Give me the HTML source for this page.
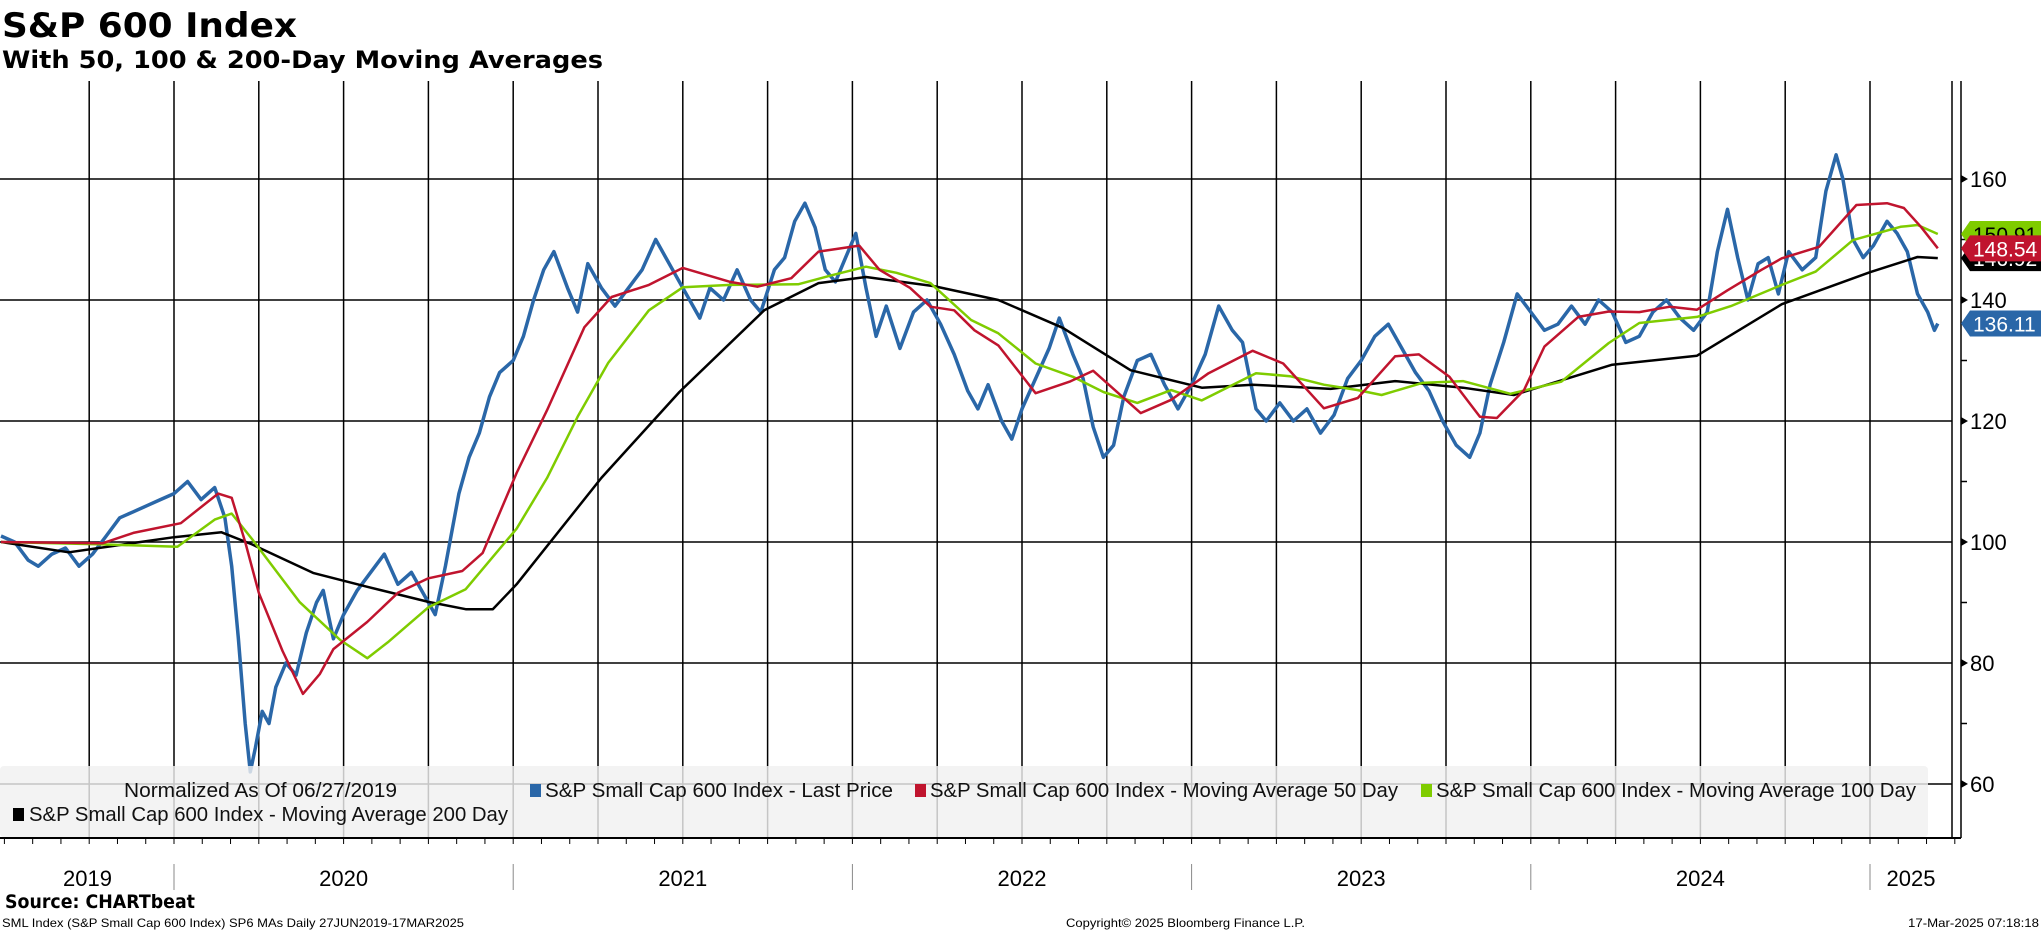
<!DOCTYPE html>
<html><head><meta charset="utf-8"><title>S&P 600 Index</title>
<style>
html,body{margin:0;padding:0;background:#fff;}
svg{display:block;}
text{font-family:"Liberation Sans",sans-serif;}
.lg{font-size:20px;fill:#111;}
</style></head>
<body>
<svg id="chart" width="2041" height="932" viewBox="0 0 2041 932" xmlns="http://www.w3.org/2000/svg">
  <text x="2" y="37" style="font-family:'DejaVu Sans','Liberation Sans',sans-serif;font-size:34px;font-weight:bold" textLength="295" lengthAdjust="spacingAndGlyphs">S&amp;P 600 Index</text>
  <text x="2" y="68" style="font-family:'DejaVu Sans','Liberation Sans',sans-serif;font-size:24px;font-weight:bold" textLength="601" lengthAdjust="spacingAndGlyphs">With 50, 100 &amp; 200-Day Moving Averages</text>
  <g id="grid"></g>
  <g id="series"></g>
  <g id="legend">
    <rect x="0" y="766" width="1928" height="71" rx="4" fill="#f0f0f0" fill-opacity="0.82"/>
    <text class="lg" x="124" y="797" textLength="273" lengthAdjust="spacingAndGlyphs">Normalized As Of 06/27/2019</text>
    <rect x="530" y="784" width="11" height="13" fill="#2a67a8"/>
    <text class="lg" x="545" y="797" textLength="348" lengthAdjust="spacingAndGlyphs">S&amp;P Small Cap 600 Index - Last Price</text>
    <rect x="915" y="784" width="11" height="13" fill="#c0142e"/>
    <text class="lg" x="930" y="797" textLength="468" lengthAdjust="spacingAndGlyphs">S&amp;P Small Cap 600 Index - Moving Average 50 Day</text>
    <rect x="1421" y="784" width="11" height="13" fill="#7fcc00"/>
    <text class="lg" x="1436" y="797" textLength="480" lengthAdjust="spacingAndGlyphs">S&amp;P Small Cap 600 Index - Moving Average 100 Day</text>
    <rect x="13" y="808" width="11" height="13" fill="#000"/>
    <text class="lg" x="29" y="821" textLength="479" lengthAdjust="spacingAndGlyphs">S&amp;P Small Cap 600 Index - Moving Average 200 Day</text>
  </g>
  <g id="axes"></g>
  <g id="tags"></g>
  <text x="5" y="908" style="font-family:'DejaVu Sans','Liberation Sans',sans-serif;font-size:19px;font-weight:bold" textLength="190" lengthAdjust="spacingAndGlyphs">Source: CHARTbeat</text>
  <text x="2" y="927" font-size="12" textLength="462" lengthAdjust="spacingAndGlyphs">SML Index (S&amp;P Small Cap 600 Index) SP6 MAs  Daily 27JUN2019-17MAR2025</text>
  <text x="1066" y="927" font-size="12" textLength="239" lengthAdjust="spacingAndGlyphs">Copyright© 2025 Bloomberg Finance L.P.</text>
  <text x="1908" y="927" font-size="12" textLength="131" lengthAdjust="spacingAndGlyphs">17-Mar-2025 07:18:18</text>
</svg>
<script>
const priceDates=[2019.49,2019.53,2019.57,2019.6,2019.64,2019.68,2019.72,2019.76,2019.8,2019.84,2019.88,2019.92,2019.96,2020.0,2020.04,2020.08,2020.12,2020.15,2020.17,2020.19,2020.21,2020.225,2020.24,2020.26,2020.28,2020.3,2020.33,2020.36,2020.39,2020.42,2020.44,2020.47,2020.5,2020.54,2020.58,2020.62,2020.66,2020.7,2020.74,2020.77,2020.8,2020.84,2020.87,2020.9,2020.93,2020.96,2021.0,2021.03,2021.06,2021.09,2021.12,2021.16,2021.19,2021.22,2021.26,2021.3,2021.34,2021.38,2021.42,2021.45,2021.48,2021.52,2021.55,2021.58,2021.62,2021.66,2021.7,2021.73,2021.77,2021.8,2021.83,2021.86,2021.89,2021.92,2021.95,2021.98,2022.01,2022.04,2022.07,2022.1,2022.14,2022.18,2022.22,2022.26,2022.3,2022.34,2022.37,2022.4,2022.44,2022.47,2022.5,2022.54,2022.58,2022.61,2022.65,2022.68,2022.71,2022.74,2022.77,2022.8,2022.84,2022.88,2022.92,2022.96,2023.0,2023.04,2023.08,2023.12,2023.15,2023.19,2023.22,2023.26,2023.3,2023.34,2023.38,2023.42,2023.46,2023.5,2023.54,2023.58,2023.62,2023.66,2023.7,2023.74,2023.78,2023.82,2023.85,2023.88,2023.92,2023.96,2024.0,2024.04,2024.08,2024.12,2024.16,2024.2,2024.24,2024.28,2024.32,2024.36,2024.4,2024.44,2024.48,2024.52,2024.55,2024.58,2024.61,2024.64,2024.67,2024.7,2024.73,2024.76,2024.8,2024.84,2024.87,2024.9,2024.92,2024.95,2024.98,2025.01,2025.05,2025.08,2025.11,2025.14,2025.17,2025.19,2025.2];
const priceValues=[101,100,97,96,98,99,96,98,101,104,105,106,107,108,110,107,109,104,96,84,70,62,66,72,70,76,80,78,85,90,92,84,88,92,95,98,93,95,91,88,96,108,114,118,124,128,130,134,140,145,148,142,138,146,142,139,142,145,150,147,144,140,137,142,140,145,140,138,145,147,153,156,152,145,143,147,151,142,134,139,132,138,140,136,131,125,122,126,120,117,122,127,132,137,131,127,119,114,116,124,130,131,126,122,126,131,139,135,133,122,120,123,120,122,118,121,127,130,134,136,132,128,125,120,116,114,118,126,133,141,138,135,136,139,136,140,138,133,134,138,140,137,135,138,148,155,147,140,146,147,141,148,145,147,158,164,160,150,147,149,153,151,148,141,138,135,136.1];
const ma50Dates=[2019.49,2019.79,2019.88,2020.02,2020.13,2020.17,2020.21,2020.25,2020.32,2020.38,2020.43,2020.47,2020.57,2020.66,2020.75,2020.85,2020.91,2021.01,2021.1,2021.21,2021.29,2021.4,2021.5,2021.64,2021.72,2021.82,2021.9,2022.02,2022.08,2022.17,2022.23,2022.3,2022.36,2022.43,2022.54,2022.64,2022.71,2022.85,2022.94,2023.05,2023.18,2023.27,2023.39,2023.49,2023.6,2023.67,2023.76,2023.85,2023.9,2023.98,2024.04,2024.14,2024.23,2024.32,2024.41,2024.49,2024.58,2024.68,2024.74,2024.85,2024.96,2025.05,2025.1,2025.15,2025.2];
const ma50Values=[100,99.8,101.5,103.1,108,107.3,100,91.6,82,74.9,78.2,82.3,86.8,91.6,94,95.2,98.2,111.4,121.8,135.5,140.5,142.5,145.3,143,142.2,143.6,148,149,145,142,138.9,138.3,135,132.5,124.6,126.5,128.3,121.3,123.5,127.9,131.6,129.5,122.1,123.8,130.7,131,127.3,120.7,120.5,125.1,132.3,137.2,138.1,138,138.9,138.4,141.6,145,146.9,148.8,155.7,156,155.2,152.1,148.54];
const ma100Dates=[2019.49,2019.79,2020.01,2020.12,2020.17,2020.23,2020.37,2020.49,2020.57,2020.63,2020.75,2020.86,2021.01,2021.1,2021.19,2021.28,2021.4,2021.5,2021.64,2021.84,2021.94,2022.04,2022.13,2022.23,2022.35,2022.43,2022.54,2022.65,2022.74,2022.84,2022.94,2023.03,2023.19,2023.29,2023.39,2023.49,2023.56,2023.68,2023.8,2023.94,2024.09,2024.23,2024.32,2024.49,2024.59,2024.74,2024.84,2024.95,2025.09,2025.14,2025.2];
const ma100Values=[100,99.6,99.2,103.7,104.7,100.5,90.1,83.8,80.8,83.4,89.2,92.2,102.2,110.6,120.7,129.6,138.3,142.1,142.5,142.6,144.1,145.5,144.5,142.8,136.7,134.5,129.5,127.3,124.8,123,125.1,123.4,127.9,127.4,126,125.1,124.3,126.3,126.6,124.5,126.5,132.9,136.2,137.2,139,142.5,144.7,149.9,152.1,152.4,150.91];
const ma200Dates=[2019.49,2019.69,2020.0,2020.14,2020.23,2020.41,2020.57,2020.75,2020.86,2020.94,2021.01,2021.26,2021.49,2021.74,2021.9,2022.04,2022.24,2022.43,2022.62,2022.82,2023.03,2023.18,2023.41,2023.6,2023.8,2023.95,2024.24,2024.49,2024.74,2025.0,2025.14,2025.2];
const ma200Values=[100,98.3,100.8,101.6,99.6,94.9,92.6,90.1,88.9,88.9,93,110.6,124.8,138.3,142.8,143.8,142.3,140,135.4,128.4,125.5,126,125.3,126.6,125.5,124.3,129.3,130.8,139.3,144.6,147.1,146.92];
const yTicks=[60,80,100,120,140,160];
const yMinor=[70,90,110,130,150];
const yearLabels=["2019","2020","2021","2022","2023","2024","2025"];
const tagValues=[150.91,146.92,148.54,136.11];

const NS="http://www.w3.org/2000/svg";
const PLOT={l:0,r:1952,t:81,b:838};
function xs(t){return 174+(t-2020)*339.2;}
function ys(v){return 179+(160-v)*6.05;}
function mk(tag,attrs,parent){const e=document.createElementNS(NS,tag);for(const k in attrs)e.setAttribute(k,attrs[k]);parent.appendChild(e);return e;}
const grid=document.getElementById('grid'),series=document.getElementById('series'),axes=document.getElementById('axes'),tags=document.getElementById('tags');

yTicks.forEach(v=>{
  const l=mk('line',{x1:PLOT.l,x2:PLOT.r,y1:ys(v),y2:ys(v),stroke:'#000','stroke-width':1.5},grid);
  
  
});
for(let q=2019.75;q<=2025.01;q+=0.25){
  const x=xs(q);
  const l=mk('line',{x1:x,x2:x,y1:PLOT.t,y2:PLOT.b,stroke:'#000','stroke-width':1.5},grid);
  
  
}
function path(dates,vals,color,w,name){
  let d='';
  for(let i=0;i<dates.length;i++){d+=(i?'L':'M')+xs(dates[i]).toFixed(1)+','+ys(vals[i]).toFixed(1);}
  const p=mk('path',{d:d,fill:'none',stroke:color,'stroke-width':w,'stroke-linejoin':'round'},series);
  
  
}
path(priceDates,priceValues,'#2a67a8',3.5,'price-line');
path(ma200Dates,ma200Values,'#000000',2.5,'ma200-line');
path(ma100Dates,ma100Values,'#7fcc00',2.5,'ma100-line');
path(ma50Dates,ma50Values,'#c0142e',2.5,'ma50-line');

[1952,1961].forEach(x=>{
  const l=mk('line',{x1:x,x2:x,y1:PLOT.t,y2:PLOT.b,stroke:'#000','stroke-width':1.5},axes);
  
  
});
yTicks.forEach(v=>{
  const y=ys(v);
  const a=mk('path',{d:`M1961,${y-4}L1968,${y}L1961,${y+4}Z`,fill:'#000'},axes);
  
  
  const t=mk('text',{x:1970,y:y+8,'font-size':22},axes);
  t.textContent=v;
  
  
});
yMinor.forEach(v=>{
  const l=mk('line',{x1:1961,x2:1967,y1:ys(v),y2:ys(v),stroke:'#000','stroke-width':1.5},axes);
  
  
});
const ax=mk('line',{x1:0,x2:1961,y1:838,y2:838,stroke:'#000','stroke-width':2},axes);


for(let m=0;m<70;m++){
  const t=2019.5+m/12;const x=xs(t);if(x>1955)break;
  const l=mk('line',{x1:x,x2:x,y1:838,y2:844,stroke:'#000','stroke-width':1},axes);
  
  
}
const yearStarts=[2019.49,2020,2021,2022,2023,2024,2025];
for(let i=1;i<yearStarts.length;i++){
  const x=xs(yearStarts[i]);
  const l=mk('line',{x1:x,x2:x,y1:864,y2:890,stroke:'#888','stroke-width':1},axes);
  
  
}
yearLabels.forEach((lab,i)=>{
  const x0=xs(yearStarts[i]);const x1=i<yearStarts.length-1?xs(yearStarts[i+1]):1952;
  const t=mk('text',{x:(x0+x1)/2,y:886,'font-size':22,'text-anchor':'middle'},axes);
  t.textContent=lab;
  
  
});
const tagColors=['#7fcc00','#000000','#c0142e','#2a67a8'];
const tagText=['#000','#fff','#fff','#fff'];
const tagNames=['ma100-value-tag','ma200-value-tag','ma50-value-tag','price-value-tag'];
tagValues.forEach((v,i)=>{
  const y=ys(v);
  const g=mk('g',{},tags);
  
  
  mk('path',{d:`M1961,${y}L1970,${y-13}L2041,${y-13}L2041,${y+13}L1970,${y+13}Z`,fill:tagColors[i]},g);
  const t=mk('text',{x:1973,y:y+8,'font-size':21,fill:tagText[i]},g);
  t.textContent=v.toFixed(2);
});
</script>
</body></html>
